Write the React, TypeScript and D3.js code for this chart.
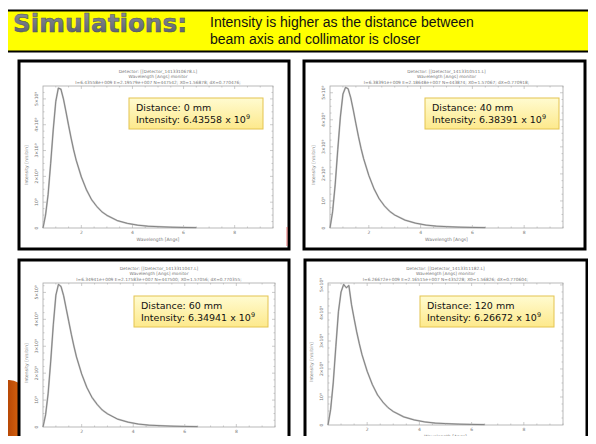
import React, { useEffect, useRef } from "react";
import * as d3 from "d3";

// wavelength samples [Angs] shared by the four monitors
const wavelength = [0.5, 0.6, 0.7, 0.8, 0.9, 1.0, 1.1, 1.2, 1.3, 1.4, 1.5, 1.6, 1.7, 1.8, 2.0, 2.2, 2.4, 2.6, 2.8, 3.0, 3.4, 3.8, 4.2, 4.6, 5.0, 5.5, 6.0, 6.5];

// intensity in units of 1e9 n/s/bin
const intensity0mm = [0, 0.5, 1.3, 2.5, 3.8, 4.9, 5.42, 5.38, 5.0, 4.5, 3.98, 3.48, 3.02, 2.62, 1.98, 1.48, 1.1, 0.84, 0.63, 0.49, 0.29, 0.18, 0.11, 0.07, 0.05, 0.03, 0.02, 0.015];
const intensity40mm = [0, 0.6, 1.6, 2.9, 4.1, 4.95, 5.2, 5.15, 4.82, 4.36, 3.86, 3.38, 2.94, 2.56, 1.94, 1.45, 1.08, 0.82, 0.62, 0.48, 0.29, 0.18, 0.11, 0.07, 0.05, 0.03, 0.02, 0.015];
const intensity60mm = [0, 0.45, 1.25, 2.45, 3.8, 4.9, 5.3, 5.22, 4.88, 4.4, 3.92, 3.44, 3.0, 2.6, 1.97, 1.47, 1.1, 0.84, 0.63, 0.49, 0.29, 0.18, 0.11, 0.07, 0.05, 0.03, 0.02, 0.015];
const intensity120mm = [0, 0.55, 1.5, 2.8, 4.05, 4.75, 5.02, 4.9, 4.98, 4.3, 3.8, 3.32, 2.9, 2.52, 1.92, 1.44, 1.07, 0.82, 0.62, 0.48, 0.29, 0.18, 0.11, 0.07, 0.05, 0.03, 0.02, 0.015];

const distances = ["0 mm", "40 mm", "60 mm", "120 mm"];
const totals = ["6.43558", "6.38391", "6.34941", "6.26672"];
const detectors = ["Detector_1413310678.L", "Detector_1413310511.L", "Detector_1413311047.L", "Detector_1413311182.L"];
const statLines = [
  "I=6.43558e+009 E=2.19579e+007 N=447542; X0=1.56878; dX=0.770476;",
  "I=6.38391e+009 E=2.18648e+007 N=443874; X0=1.57067; dX=0.770918;",
  "I=6.34941e+009 E=2.17583e+007 N=447500; X0=1.57056; dX=0.770355;",
  "I=6.26672e+009 E=2.16515e+007 N=435228; X0=1.56826; dX=0.770604;",
];
const xTicks = [2, 4, 6, 8];
const yTicks = [0, 1, 2, 3, 4, 5];
const yTickLabels = ["0", "10⁹", "2×10⁹", "3×10⁹", "4×10⁹", "5×10⁹"];
const series = [intensity0mm, intensity40mm, intensity60mm, intensity120mm];

// layout of the four screenshots on the slide
const layout = [
  { box: [19, 61, 289, 249], frame: [43, 86, 273, 228], note: [129, 98], yMax: 5.5 },
  { box: [304, 61, 585, 249], frame: [330, 86, 563, 228], note: [425, 98], yMax: 5.25 },
  { box: [19, 260, 289, 460], frame: [43, 283, 275, 427], note: [134, 296], yMax: 5.35 },
  { box: [305, 260, 587, 460], frame: [328, 283, 563, 425], note: [420, 296], yMax: 5.07 },
];

export default function App() {
  const ref = useRef<SVGSVGElement>(null);

  useEffect(() => {
    const W = 596, H = 444;
    const svg = d3.select(ref.current).attr("width", W).attr("height", H);
    svg.selectAll("*").remove();

    const defs = svg.append("defs");
    const g1 = defs.append("linearGradient").attr("id", "noteFill").attr("x1", 0).attr("y1", 0).attr("x2", 0).attr("y2", 1);
    g1.append("stop").attr("offset", "0%").attr("stop-color", "#fffbd0");
    g1.append("stop").attr("offset", "100%").attr("stop-color", "#fde98c");
    const g2 = defs.append("linearGradient").attr("id", "titleFill").attr("x1", 0).attr("y1", 0).attr("x2", 0).attr("y2", 1);
    g2.append("stop").attr("offset", "0%").attr("stop-color", "#8e939e");
    g2.append("stop").attr("offset", "100%").attr("stop-color", "#555a66");
    const g3 = defs.append("linearGradient").attr("id", "orange").attr("x1", 0).attr("y1", 0).attr("x2", 1).attr("y2", 0);
    g3.append("stop").attr("offset", "0%").attr("stop-color", "#b84806");
    g3.append("stop").attr("offset", "100%").attr("stop-color", "#d2600e");

    svg.append("rect").attr("width", W).attr("height", H).attr("fill", "#fff");

    // slide frame
    svg.append("line").attr("x1", 4).attr("x2", W).attr("y1", 5).attr("y2", 5).attr("stroke", "#000").attr("stroke-width", 2);
    svg.append("path").attr("d", "M8,380 Q13,379.5 19,383 L19,444 L8,444 Z").attr("fill", "url(#orange)");
    svg.append("line").attr("x1", 7).attr("x2", 7).attr("y1", 52).attr("y2", H).attr("stroke", "#000").attr("stroke-width", 2);
    svg.append("line").attr("x1", 590).attr("x2", 590).attr("y1", 52).attr("y2", H).attr("stroke", "#000").attr("stroke-width", 2);

    // title bar
    svg.append("rect").attr("x", 6).attr("y", 10.5).attr("width", 588).attr("height", 41).attr("fill", "#ffff00").attr("stroke", "#000").attr("stroke-width", 2);
    svg.append("text")
      .attr("x", 13).attr("y", 32)
      .attr("font-family", "DejaVu Sans").attr("font-weight", "700").attr("font-size", 25)
      .attr("textLength", 174).attr("lengthAdjust", "spacingAndGlyphs")
      .attr("fill", "url(#titleFill)").attr("stroke", "#4b505a").attr("stroke-width", 0.5)
      .text("Simulations:");
    const sub = svg.append("text").attr("font-family", "Liberation Sans").attr("font-size", 14).attr("fill", "#111");
    sub.append("tspan").attr("x", 210).attr("y", 27).text("Intensity is higher as the distance between");
    sub.append("tspan").attr("x", 210).attr("y", 44).text("beam axis and collimator is closer");

    const line = d3.line<number>();

    layout.forEach((p, i) => {
      const [bx0, by0, bx1, by1] = p.box;
      const [fl, ft, fr, fb] = p.frame;
      const g = svg.append("g");
      g.append("rect").attr("x", bx0).attr("y", by0).attr("width", bx1 - bx0).attr("height", by1 - by0)
        .attr("fill", "#fff").attr("stroke", "#000").attr("stroke-width", 3);

      const x = d3.scaleLinear().domain([0.5, 9.5]).range([fl, fr]);
      const y = d3.scaleLinear().domain([0, p.yMax]).range([fb, ft]);
      const cx = (fl + fr) / 2;

      // plot titles
      const tt = g.append("g").attr("font-family", "DejaVu Sans").attr("font-size", 4.3).attr("fill", "#777").attr("text-anchor", "middle");
      tt.append("text").attr("x", cx).attr("y", ft - 13).text(`Detector: [[${detectors[i]}]`);
      tt.append("text").attr("x", cx).attr("y", ft - 8).text("Wavelength [Angs] monitor");
      tt.append("text").attr("x", cx).attr("y", ft - 2).text(statLines[i]);

      // frame and minor ticks
      g.append("rect").attr("x", fl).attr("y", ft).attr("width", fr - fl).attr("height", fb - ft)
        .attr("fill", "none").attr("stroke", "#a8a8a8").attr("stroke-width", 0.8);
      const minorX = d3.range(1, 9.6, 0.5);
      const minorY = d3.range(0.25, p.yMax, 0.25);
      const tk = g.append("g").attr("stroke", "#aaa").attr("stroke-width", 0.6);
      minorX.forEach((v) => {
        const len = Number.isInteger(v) && v % 2 === 0 ? 3 : 1.5;
        tk.append("line").attr("x1", x(v)).attr("x2", x(v)).attr("y1", fb).attr("y2", fb - len);
        tk.append("line").attr("x1", x(v)).attr("x2", x(v)).attr("y1", ft).attr("y2", ft + len);
      });
      minorY.forEach((v) => {
        const len = Number.isInteger(v) ? 3 : 1.5;
        tk.append("line").attr("x1", fl).attr("x2", fl + len).attr("y1", y(v)).attr("y2", y(v));
        tk.append("line").attr("x1", fr).attr("x2", fr - len).attr("y1", y(v)).attr("y2", y(v));
      });

      const lab = g.append("g").attr("font-family", "DejaVu Sans").attr("font-size", 4.5).attr("fill", "#777").attr("text-anchor", "middle");
      xTicks.forEach((v) => lab.append("text").attr("x", x(v)).attr("y", fb + 6).text(v));
      yTicks.forEach((v, k) =>
        lab.append("text").attr("transform", `translate(${fl - 5},${y(v)}) rotate(-90)`).text(yTickLabels[k])
      );
      lab.append("text").attr("x", cx).attr("y", fb + 13).text("Wavelength [Angs]");
      lab.append("text").attr("transform", `translate(${fl - 15},${(ft + fb) / 2 + 8}) rotate(-90)`).text("Intensity [n/s/bin]");

      // spectrum
      const pts = wavelength.map((w, k) => [x(w), y(series[i][k])] as [number, number]);
      g.append("path").attr("d", line(pts as any)).attr("fill", "none").attr("stroke", "#c2c2c2").attr("stroke-width", 1.8).attr("stroke-linejoin", "round");
      g.append("path").attr("d", line(pts as any)).attr("fill", "none").attr("stroke", "#5a5a5a").attr("stroke-width", 0.6).attr("stroke-linejoin", "round");

      // annotation
      const [nx, ny] = p.note;
      g.append("rect").attr("x", nx).attr("y", ny).attr("width", 134).attr("height", 31)
        .attr("fill", "url(#noteFill)").attr("stroke", "#e4c451").attr("stroke-width", 1);
      const nt = g.append("text").attr("font-family", "DejaVu Sans").attr("font-size", 9.5).attr("fill", "#111");
      nt.append("tspan").attr("x", nx + 7).attr("y", ny + 13).text(`Distance: ${distances[i]}`);
      const t2 = g.append("text").attr("font-family", "DejaVu Sans").attr("font-size", 9.5).attr("fill", "#111")
        .attr("x", nx + 7).attr("y", ny + 24.5);
      t2.append("tspan").text(`Intensity: ${totals[i]} x 10`);
      t2.append("tspan").attr("font-size", 6.5).attr("dy", -3.5).text("9");
    });

    // small red mark at the corner of the first screenshot
    svg.append("line").attr("x1", 287).attr("x2", 287).attr("y1", 227).attr("y2", 246).attr("stroke", "#e05050").attr("stroke-width", 0.8);
  }, []);

  return (
    <div style={{ margin: -8 }}>
      <svg ref={ref} style={{ display: "block" }} />
    </div>
  );
}
